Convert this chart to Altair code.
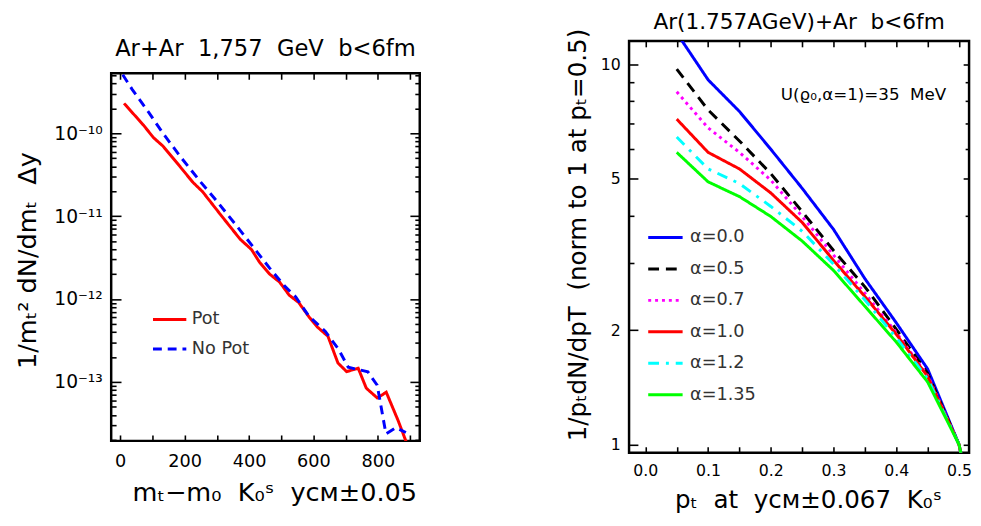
import altair as alt
import pandas as pd

FONT = "DejaVu Sans"
SP = "\u00a0"

# ---------------- Left panel data ----------------
mt_pot = [12, 72, 103, 133, 184, 225, 256, 311, 372, 408, 433, 464, 495, 525, 554,
          586, 612, 645, 676, 703, 739, 764, 798, 826, 863, 890]
val_pot = [2.3e-10, 1.26e-10, 8.9e-11, 7.0e-11, 4.05e-11, 2.58e-11, 1.97e-11, 1.05e-11,
           5.3e-12, 3.94e-12, 2.77e-12, 2.0e-12, 1.6e-12, 1.11e-12, 9.1e-13, 6.1e-13,
           4.6e-13, 3.55e-13, 1.69e-13, 1.33e-13, 1.46e-13, 8.4e-14, 6.4e-14, 7.5e-14,
           3.4e-14, 1.8e-14]
mt_nopot = [8, 37, 88, 133, 189, 250, 301, 362, 413, 464, 510, 545, 586, 637, 678,
            708, 739, 769, 798, 825, 856, 887]
val_nopot = [5.1e-10, 3.4e-10, 1.8e-10, 1.0e-10, 5.1e-11, 2.58e-11, 1.5e-11, 7.6e-12,
             4.24e-12, 2.36e-12, 1.44e-12, 1.06e-12, 6.2e-13, 4.06e-13, 2.47e-13,
             1.5e-13, 1.41e-13, 1.32e-13, 9.1e-14, 2.36e-14, 2.8e-14, 2.45e-14]
left_series = ["Pot", "No" + SP + "Pot"]
left_colors = ["#ff0000", "#0000ff"]
left_dashes = [[1, 0], [9, 6]]

# ---------------- Right panel data ----------------
pt = [0.05, 0.1, 0.15, 0.2, 0.25, 0.3, 0.35, 0.4, 0.45, 0.5, 0.503]
a00 = [12.1, 9.11, 7.52, 5.98, 4.72, 3.68, 2.73, 2.09, 1.58, 1.0, 0.95]
a05 = [9.72, 7.59, 6.29, 5.16, 4.10, 3.24, 2.60, 2.01, 1.54, 1.0, 0.95]
a07 = [8.47, 6.81, 5.87, 4.96, 3.98, 3.15, 2.50, 1.97, 1.52, 1.0, 0.95]
a10 = [7.18, 5.87, 5.31, 4.59, 3.84, 3.05, 2.45, 1.95, 1.51, 1.0, 0.95]
a12 = [6.44, 5.31, 4.86, 4.23, 3.64, 2.98, 2.40, 1.91, 1.49, 1.0, 0.95]
a135 = [5.87, 4.91, 4.49, 3.98, 3.43, 2.87, 2.31, 1.86, 1.46, 1.0, 0.95]
right_series = ["α=0.0", "α=0.5", "α=0.7", "α=1.0", "α=1.2", "α=1.35"]
right_values = [a00, a05, a07, a10, a12, a135]
right_colors = ["#0000ff", "#000000", "#ff00ff", "#ff0000", "#00ffff", "#00ff00"]
right_dashes = [[1, 0], [11, 7], [3, 4], [1, 0], [11, 7, 3, 7], [1, 0]]

left_df = pd.concat([
    pd.DataFrame({"mt": mt_pot, "val": val_pot, "series": left_series[0], "o": 1}),
    pd.DataFrame({"mt": mt_nopot, "val": val_nopot, "series": left_series[1], "o": 0}),
])
right_df = pd.concat([
    pd.DataFrame({"pt": pt, "val": v, "alpha": s, "o": i})
    for i, (s, v) in enumerate(zip(right_series, right_values))
])

FRAME = alt.ViewBackground(stroke="black", strokeWidth=2.5)

# ---------------- helpers ----------------
def tick_axis(orient, values, size):
    return alt.Axis(orient=orient, values=values, labels=False, domain=False, grid=False,
                    ticks=True, tickSize=size, offset=-size, tickWidth=1.6,
                    tickColor="black", title=None)

# ---------------- Left chart ----------------
xs_L = alt.Scale(domain=[-28, 930], nice=False, zero=False)
ys_L = alt.Scale(type="log", domain=[1.94e-14, 5.3e-10], nice=False)
x_ticks_L = list(range(0, 1000, 100))
y_major_L = [1e-13, 1e-12, 1e-11, 1e-10]
y_minor_L = [m * 10.0 ** e for e in range(-14, -9) for m in range(2, 10)
             if 1.94e-14 <= m * 10.0 ** e <= 5.3e-10]

leg_L = alt.Legend(title=None, orient="none", legendX=41, legendY=265, symbolType="stroke",
                   symbolSize=1150, symbolStrokeWidth=3, labelFontSize=18, labelColor="#333333",
                   labelFont=FONT, labelOffset=4, rowPadding=2, padding=0)

lines_L = alt.Chart(left_df).mark_line(strokeWidth=3, clip=True).encode(
    x=alt.X("mt:Q", scale=xs_L, axis=alt.Axis(
        values=[0, 200, 400, 600, 800], ticks=False, tickSize=0, domain=False, grid=False,
        labelFontSize=18, labelFont=FONT, labelColor="black", labelPadding=12,
        title=f"mₜ−m₀{SP}{SP}K₀ˢ{SP}{SP}yᴄᴍ±0.05", titleFontSize=26, titleFont=FONT,
        titleFontWeight="normal", titleColor="black", titlePadding=10, titleX=166)),
    y=alt.Y("val:Q", scale=ys_L, axis=alt.Axis(
        values=y_major_L, ticks=False, tickSize=0, domain=False, grid=False,
        labelExpr="datum.value < 5e-13 ? '10⁻¹³' : datum.value < 5e-12 ? '10⁻¹²' : datum.value < 5e-11 ? '10⁻¹¹' : '10⁻¹⁰'",
        labelFontSize=19, labelFont=FONT, labelColor="black", labelPadding=9,
        title=f"1/mₜ²{SP}dN/dmₜ{SP}{SP}Δy", titleFontSize=26, titleFont=FONT,
        titleFontWeight="normal", titleColor="black", titlePadding=14, titleY=190)),
    color=alt.Color("series:N", scale=alt.Scale(domain=left_series, range=left_colors), legend=leg_L),
    strokeDash=alt.StrokeDash("series:N", scale=alt.Scale(domain=left_series, range=left_dashes), legend=leg_L),
    order=alt.Order("o:Q"),
)

def ghost_L(xaxis, yaxis):
    return alt.Chart(left_df).mark_point(opacity=0, size=1, clip=True).encode(
        x=alt.X("mt:Q", scale=xs_L, axis=xaxis),
        y=alt.Y("val:Q", scale=ys_L, axis=yaxis),
    )

left_chart = alt.layer(
    lines_L,
    ghost_L(tick_axis("bottom", x_ticks_L, 6), tick_axis("left", y_major_L, 10)),
    ghost_L(tick_axis("top", x_ticks_L, 6), tick_axis("left", y_minor_L, 5)),
    ghost_L(None, tick_axis("right", y_major_L, 10)),
    ghost_L(None, tick_axis("right", y_minor_L, 5)),
).resolve_axis(x="independent", y="independent").properties(
    width=314, height=374, view=FRAME,
    title=alt.TitleParams(f"Ar+Ar{SP}{SP}1,757{SP}{SP}GeV{SP}{SP}b<6fm", fontSize=23, font=FONT,
                          fontWeight="normal", color="black", anchor="middle", offset=12,
                          frame="group"),
)

spacer = alt.Chart(pd.DataFrame({"a": [0]})).mark_point(opacity=0, size=1).encode(
    x=alt.X("a:Q", axis=None), y=alt.Y("a:Q", axis=None)
).properties(width=1, height=1, view=alt.ViewBackground(stroke="transparent"))

left_col = alt.vconcat(spacer, left_chart, spacing=-8)

# ---------------- Right chart ----------------
xs_R = alt.Scale(domain=[-0.026, 0.516], nice=False, zero=False)
ys_R = alt.Scale(type="log", domain=[0.952, 11.53], nice=False)
x_ticks_R = [round(0.05 * i, 2) for i in range(0, 11)]
y_major_R = [1, 2, 5, 10]
y_minor_R = [3, 4, 6, 7, 8, 9]

leg_R = alt.Legend(title=None, orient="none", legendX=18, legendY=181, symbolType="stroke",
                   symbolSize=1225, symbolStrokeWidth=3, labelFontSize=18, labelColor="#333333",
                   labelFont=FONT, labelOffset=6, rowPadding=4, padding=0)

lines_R = alt.Chart(right_df).mark_line(strokeWidth=3, clip=True).encode(
    x=alt.X("pt:Q", scale=xs_R, axis=alt.Axis(
        values=[0, 0.1, 0.2, 0.3, 0.4, 0.5], format=".1f", ticks=False, tickSize=0,
        domain=False, grid=False, labelFontSize=16, labelFont=FONT, labelColor="black",
        labelPadding=10, title=f"pₜ{SP}{SP}at{SP}{SP}yᴄᴍ±0.067{SP}{SP}K₀ˢ", titleFontSize=25,
        titleFont=FONT, titleFontWeight="normal", titleColor="black", titlePadding=10,
        titleX=182)),
    y=alt.Y("val:Q", scale=ys_R, axis=alt.Axis(
        values=y_major_R, format="d", ticks=False, tickSize=0, domain=False, grid=False,
        labelFontSize=16, labelFont=FONT, labelColor="black", labelPadding=9,
        title=f"1/pₜdN/dpT{SP}{SP}(norm to 1 at pₜ=0.5)", titleFontSize=25, titleFont=FONT,
        titleFontWeight="normal", titleColor="black", titlePadding=10, titleY=197)),
    color=alt.Color("alpha:N", scale=alt.Scale(domain=right_series, range=right_colors), legend=leg_R),
    strokeDash=alt.StrokeDash("alpha:N", scale=alt.Scale(domain=right_series, range=right_dashes), legend=leg_R),
    order=alt.Order("o:Q"),
)

def ghost_R(xaxis, yaxis):
    return alt.Chart(right_df).mark_point(opacity=0, size=1, clip=True).encode(
        x=alt.X("pt:Q", scale=xs_R, axis=xaxis),
        y=alt.Y("val:Q", scale=ys_R, axis=yaxis),
    )

annot_df = pd.DataFrame({"pt": [0.216], "val": [8.3], "t": [f"U(ϱ₀,α=1)=35{SP}{SP}MeV"]})
annot = alt.Chart(annot_df).mark_text(align="left", baseline="middle", fontSize=17,
                                      font=FONT, color="black").encode(
    x=alt.X("pt:Q", scale=xs_R, axis=None),
    y=alt.Y("val:Q", scale=ys_R, axis=None),
    text="t:N",
)

right_chart = alt.layer(
    lines_R,
    ghost_R(tick_axis("bottom", x_ticks_R, 6), tick_axis("left", y_major_R, 9)),
    ghost_R(tick_axis("top", x_ticks_R, 6), tick_axis("left", y_minor_R, 5)),
    ghost_R(None, tick_axis("right", y_major_R, 6)),
    ghost_R(None, tick_axis("right", y_minor_R, 4)),
    annot,
).resolve_axis(x="independent", y="independent").properties(
    width=346, height=419, view=FRAME,
    title=alt.TitleParams(f"Ar(1.757AGeV)+Ar{SP}{SP}b<6fm", fontSize=22, font=FONT,
                          fontWeight="normal", color="black", anchor="middle", offset=-6,
                          frame="group"),
)

chart = alt.hconcat(left_col, right_chart, spacing=144).resolve_scale(
    color="independent", strokeDash="independent"
).resolve_legend(color="independent", strokeDash="independent").properties(
    padding={"left": 5, "top": -3, "right": 0, "bottom": 0}, background="white"
).configure_view(stroke="black", strokeWidth=2.5)

chart.save("out.html", embed_options={"renderer": "svg", "actions": False})
